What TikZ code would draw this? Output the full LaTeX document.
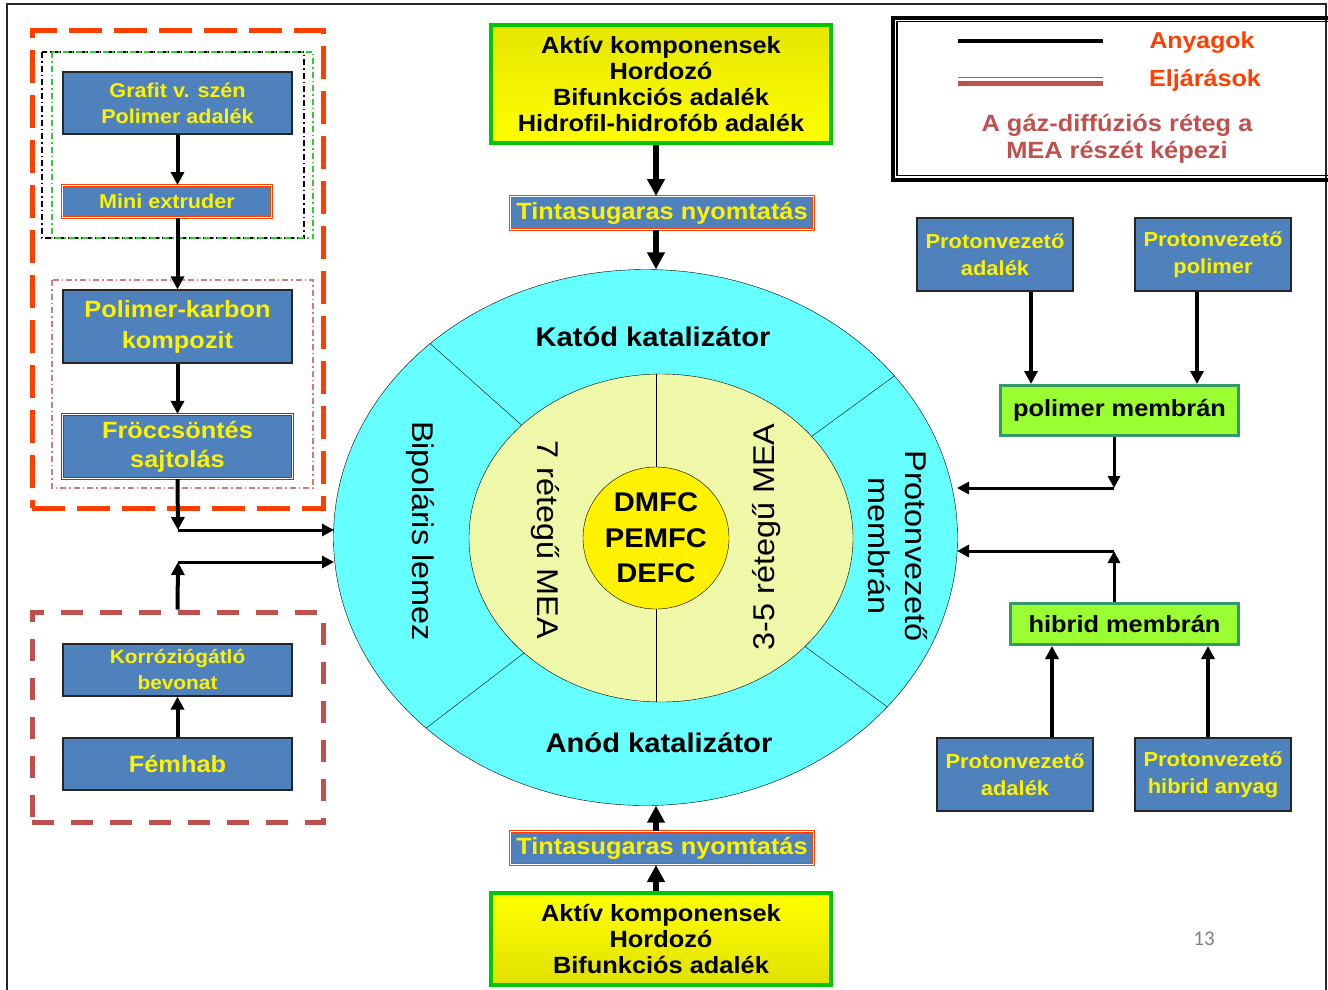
\documentclass[tikz,border=0pt]{standalone}
\usepackage{fontspec}
\setmainfont{Liberation Sans}[FakeStretch=1.08]
\newfontfamily\pagenumfont{Carlito}
\usetikzlibrary{shapes.geometric,arrows.meta}

\definecolor{boxblue}{HTML}{4F81BD}
\definecolor{dashred}{HTML}{FF3F00}
\definecolor{brickred}{HTML}{C0504D}
\definecolor{ringcyan}{HTML}{66FFFF}
\definecolor{meayellow}{HTML}{EFF7A8}
\definecolor{limegreen}{HTML}{99FF33}
\definecolor{membgreen}{HTML}{339966}
\definecolor{mixgreen}{HTML}{00C800}
\definecolor{dotgreen}{HTML}{33CC33}
\definecolor{moldblue}{HTML}{2244CC}

\begin{document}
\begin{tikzpicture}[x=1pt, y=-1pt,
	matbox/.style={draw=black!85, line width=1.2pt, fill=boxblue, text=yellow, align=center, inner sep=0pt},
	procbox/.style={matbox, draw=dashred, double=white, double distance=1pt, line width=1pt},
	membbox/.style={draw=membgreen, line width=3pt, fill=limegreen, inner sep=0pt, font=\bfseries\fontsize{23.5}{28}\selectfont},
	mixbox/.style={draw=mixgreen, line width=4pt, inner sep=0pt, align=center, font=\bfseries\fontsize{23.5}{26}\selectfont},
	arr/.style={line width=4pt, -{Triangle[length=13pt,width=13pt]}},
	bigarr/.style={line width=5.5pt, -{Triangle[length=17pt,width=17pt]}},
	thinarr/.style={line width=3pt, -{Triangle[length=12pt,width=12pt]}},
	ringtext/.style={font=\fontsize{30}{37}\selectfont, align=center},
	cattext/.style={font=\bfseries\fontsize{27}{32}\selectfont}
	]
	\def\boxfont{\bfseries\fontsize{20}{26}\selectfont}
	\def\bigboxfont{\bfseries\fontsize{23.5}{29}\selectfont}
	
	\clip (0,0) rectangle (1328,989);
	\fill[white] (0,0) rectangle (1328,989);
	
	% Page frame
	\draw[line width=2.5pt, black!85] (7,995) -- (7,4) -- (1326,4) -- (1326,995);
	
	% Legend
	\node[draw, line width=4pt, minimum width=450, minimum height=162, inner sep=0pt] (legend) at (1118,98.5) {};
	\draw[line width=1.2pt] ([shift={(6,6)}]legend.north west) rectangle ([shift={(-6,-6)}]legend.south east);
	\draw[line width=4pt] (958,41) -- (1103,41);
	\draw[brickred, line width=1.5pt] (958,77.5) -- (1103,77.5);
	\draw[brickred, line width=5pt] (958,83.5) -- (1103,83.5);
	\node[text=dashred, font=\bfseries\fontsize{23}{28}\selectfont] (anyag) at (1202,43) {Anyagok};
	\node[text=dashred, font=\bfseries\fontsize{23.3}{28}\selectfont] (eljar) at (1205,80) {Eljárások};
	\node[text=brickred, align=center, font=\bfseries\fontsize{23.5}{27}\selectfont] (gdl) at (1117,139) {A gáz-diffúziós réteg a\\MEA részét képezi};
	
	% Bipolar plate groups
	\node[draw=dashred, line width=5pt, dash pattern=on 33pt off 12pt, minimum width=291, minimum height=478, inner sep=0pt] (carbgrp) at (177.5,269) {};
	\draw[line width=1.2pt, dash pattern=on 6pt off 3pt on 1.5pt off 3pt] (42,52) rectangle (304,238);
	\draw[dotgreen, line width=1.2pt, dash pattern=on 6pt off 3pt on 1.5pt off 3pt] (52,52) rectangle (313,238);
	\draw[brickred!75, line width=1.2pt, dash pattern=on 6pt off 3pt on 1.5pt off 3pt] (52,280) rectangle (313,488);
	\node[draw=brickred, line width=5pt, dash pattern=on 22pt off 17pt, minimum width=291, minimum height=210, inner sep=0pt] (metalgrp) at (177.5,717) {};
	
	\node[matbox, minimum width=229, minimum height=62, font=\boxfont] (grafit) at (177.5,103) {Grafit v. szén\\Polimer adalék};
	\node[procbox, minimum width=209, minimum height=32, font=\boxfont] (mini) at (167,201.5) {Mini extruder};
	\node[matbox, minimum width=229, minimum height=73, font=\bfseries\fontsize{23.5}{31}\selectfont] (pkarbon) at (177.5,326.5) {Polimer-karbon\\kompozit};
	\node[matbox, draw=moldblue, double=white, double distance=1pt, line width=1.2pt, minimum width=230, minimum height=64, font=\bigboxfont] (frocc) at (177.5,446.5) {Fröccsöntés\\sajtolás};
	\node[matbox, minimum width=229, minimum height=52, font=\bfseries\fontsize{19.3}{26}\selectfont] (korr) at (177.5,670) {Korróziógátló\\bevonat};
	\node[matbox, minimum width=229, minimum height=52, font=\bigboxfont] (femhab) at (177.5,764) {Fémhab};
	
	% Fuel cell rings
	\node[ellipse, draw, fill=ringcyan, minimum width=624, minimum height=536, inner sep=0pt] (ring) at (645.5,537.5) {};
	\node[ellipse, draw, fill=meayellow, minimum width=384, minimum height=328, inner sep=0pt] (mea) at (661,538) {};
	\node[ellipse, draw, fill=yellow, minimum width=146, minimum height=142, inner sep=0pt, align=center, font=\bfseries\fontsize{27}{35.5}\selectfont] (core) at (656,538) {DMFC\\PEMFC\\DEFC};
	\draw (ring.138) -- (mea.141);
	\draw (ring.33) -- (mea.34);
	\draw (ring.221) -- (mea.220);
	\draw (ring.325) -- (mea.323);
	\draw (core.north |- mea.north) -- (core.north);
	\draw (core.south) -- (core.south |- mea.south);
	
	\node[cattext] (katod) at (653,337) {Katód katalizátor};
	\node[cattext] (anod) at (659,743) {Anód katalizátor};
	\node[ringtext, rotate=-90] (bipol) at (420,531) {Bipoláris lemez};
	\node[ringtext, rotate=-90] (mea7) at (545,540) {7 rétegű MEA};
	\node[ringtext, rotate=90] (mea35) at (767,537) {3-5 rétegű MEA};
	\node[ringtext, rotate=-90] (protmemb) at (898,546) {Protonvezető\\membrán};
	
	% Catalyst inks
	\node[mixbox, top color=yellow!90!black, bottom color=yellow, minimum width=340, minimum height=118] (topmix) at (661,84) {Aktív komponensek\\Hordozó\\Bifunkciós adalék\\Hidrofil-hidrofób adalék};
	\node[procbox, minimum width=303, minimum height=33, font=\bigboxfont] (toptinta) at (662,213) {Tintasugaras nyomtatás};
	\node[procbox, minimum width=303, minimum height=33, font=\bigboxfont] (bottinta) at (662,848) {Tintasugaras nyomtatás};
	\node[mixbox, top color=yellow, bottom color=yellow!88!black, minimum width=340, minimum height=92] (botmix) at (661,939) {Aktív komponensek\\Hordozó\\Bifunkciós adalék};
	
	% Membranes
	\node[matbox, minimum width=156, minimum height=73, font=\bfseries\fontsize{20.3}{27}\selectfont] (padalek1) at (995,254.5) {Protonvezető\\adalék};
	\node[matbox, minimum width=156, minimum height=73, font=\bfseries\fontsize{20.3}{27}\selectfont] (ppolimer) at (1213,254.5) {Protonvezető\\polimer};
	\node[membbox, minimum width=238, minimum height=50] (polmemb) at (1119.5,410.5) {polimer membrán};
	\node[membbox, minimum width=228, minimum height=41] (hibmemb) at (1124.5,624) {hibrid membrán};
	\node[matbox, minimum width=156, minimum height=73, font=\bfseries\fontsize{20.3}{27}\selectfont] (padalek2) at (1015,774.5) {Protonvezető\\adalék};
	\node[matbox, minimum width=156, minimum height=73, font=\bfseries\fontsize{20.3}{27}\selectfont] (phibrid) at (1213,774.5) {Protonvezető\\hibrid anyag};
	
	\node[text=black!50, font=\pagenumfont\fontsize{21}{24}\selectfont] (pagenum) at (1204,939) {13};
	
	% Arrows
	\coordinate (cL1) at (178,530);
	\coordinate (inL1) at (334,530);
	\coordinate (cL2) at (178,562);
	\coordinate (inL2) at (334,562);
	\coordinate (cR1) at (1114,488);
	\coordinate (inR1) at (957,488);
	\coordinate (cR2) at (1114,551);
	\coordinate (inR2) at (957,551);
	
	\draw[arr] (grafit.south) -- (grafit.south |- mini.north);
	\draw[arr] (pkarbon.north |- mini.south) -- (pkarbon.north);
	\draw[arr] (pkarbon.south) -- (frocc.north);
	\draw[arr] (frocc.south) -- (cL1);
	\draw[thinarr] (cL1) -- (inL1);
	\draw[arr] (femhab.north) -- (korr.south);
	\draw[arr] (metalgrp.north) -- (cL2);
	\draw[thinarr] (cL2) -- (inL2);
	
	\draw[bigarr] (core |- topmix.south) -- (core |- toptinta.north);
	\draw[bigarr] (core |- toptinta.south) -- (core |- ring.north);
	\draw[bigarr] (core |- botmix.north) -- (core |- bottinta.south);
	\draw[bigarr] (core |- bottinta.north) -- (core |- ring.south);
	
	\draw[arr] ([xshift=36pt]padalek1.south) -- ([xshift=36pt]padalek1.south |- polmemb.north);
	\draw[arr] ([xshift=-16pt]ppolimer.south) -- ([xshift=-16pt]ppolimer.south |- polmemb.north);
	\draw[thinarr] (polmemb.south -| cR1) -- (cR1);
	\draw[thinarr] (cR1) -- (inR1);
	\draw[thinarr] (hibmemb.north -| cR2) -- (cR2);
	\draw[thinarr] (cR2) -- (inR2);
	\draw[arr] ([xshift=37pt]padalek2.north) -- ([xshift=37pt]padalek2.north |- hibmemb.south);
	\draw[arr] ([xshift=-5pt]phibrid.north) -- ([xshift=-5pt]phibrid.north |- hibmemb.south);
\end{tikzpicture}
\end{document}
